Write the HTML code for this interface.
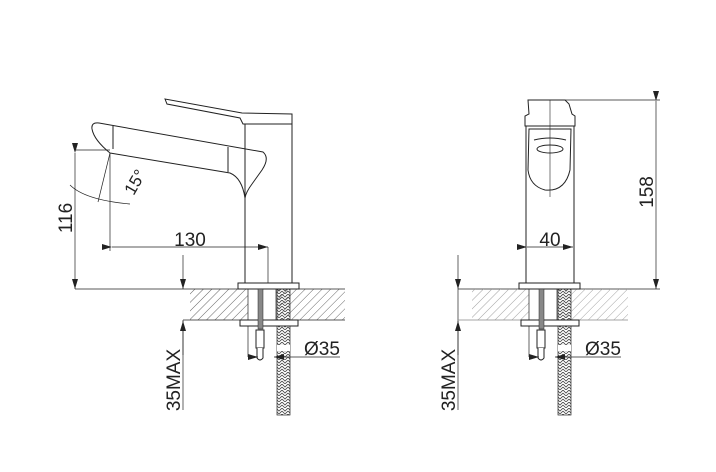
<!DOCTYPE html>
<html><head><meta charset="utf-8"><style>
html,body{margin:0;padding:0;background:#fff;}
svg{display:block;}
text{font-family:"Liberation Sans",sans-serif;fill:#222;}
</style></head><body>
<svg width="716" height="472" viewBox="0 0 716 472" xmlns="http://www.w3.org/2000/svg">
<defs>
<pattern id="h" width="6" height="6" patternUnits="userSpaceOnUse" patternTransform="rotate(45)">
<line x1="0" y1="0" x2="0" y2="6" stroke="#555" stroke-width="0.9"/></pattern>
<pattern id="h2" width="6" height="6" patternUnits="userSpaceOnUse" patternTransform="rotate(45)">
<line x1="0" y1="0" x2="0" y2="6" stroke="#999" stroke-width="0.9"/></pattern>
<pattern id="braid" width="6" height="6" patternUnits="userSpaceOnUse">
<path d="M0 0 L3 3 L6 0 M0 3 L3 6 L6 3" stroke="#444" fill="none" stroke-width="0.8"/></pattern>
<marker id="a" markerWidth="10" markerHeight="6" refX="10" refY="3" orient="auto" markerUnits="userSpaceOnUse">
<path d="M0 0 L10 3 L0 6 Z" fill="#222"/></marker>
</defs>
<g stroke="#222" fill="none" stroke-width="1">
<!-- LEFT faucet -->
<path d="M165 99 L167 104 L240 118 L243 124 L292 124 L292 114 L242 113 Z" fill="#fff"/>
<rect x="245" y="124" width="47" height="165"/>
<path d="M92 129 Q91 122 99 123 L263 152 Q270 158 262 170 L252 184 Q246 192 245 198"/>
<path d="M92 129 Q94 140 110 153 L230 173 Q242 178 245 198"/>
<path d="M113 126 L113 149 M228 147 L228 172"/>
<!-- dims -->
<line x1="75" y1="150" x2="110" y2="150" stroke-width="0.7"/>
<line x1="75" y1="153" x2="75" y2="289" stroke-width="0.7" marker-start="url(#a)" marker-end="url(#a)"/>
<line x1="110" y1="153" x2="110" y2="251" stroke-width="0.7"/>
<line x1="110" y1="153" x2="98" y2="202" stroke-width="0.7"/>
<path d="M70 185 Q85 200 130 204" stroke-width="0.7"/>
<line x1="112" y1="247" x2="268" y2="247" stroke-width="0.7" marker-start="url(#a)" marker-end="url(#a)"/>
<line x1="268" y1="247" x2="268" y2="289" stroke-width="0.7"/>
<line x1="183" y1="255" x2="183" y2="289" stroke-width="0.7" marker-end="url(#a)"/>
<line x1="183" y1="320" x2="183" y2="410" stroke-width="0.7"/>
<line x1="183" y1="355" x2="183" y2="321" stroke-width="0.7" marker-end="url(#a)"/>
<line x1="75" y1="289" x2="190" y2="289" stroke-width="0.7"/>
<!-- bottom left -->
<rect x="190" y="289" width="155" height="31" fill="url(#h)" stroke="none"/>
<line x1="190" y1="289" x2="345" y2="289" stroke-width="0.7"/>
<line x1="183" y1="320" x2="345" y2="320" stroke-width="0.7"/>
<rect x="248" y="289" width="28" height="31" fill="#fff" stroke-width="0.7"/>
<rect x="277" y="289" width="13" height="126" fill="url(#braid)" stroke-width="0.7"/>
<rect x="277" y="345" width="13" height="6" fill="#fff" stroke="none"/>
<rect x="238" y="283" width="61" height="6" fill="#fff"/>
<rect x="240" y="320" width="58" height="6" fill="#fff"/>
<rect x="258" y="289" width="5" height="40" fill="#888" stroke-width="0.5"/>
<rect x="256" y="330" width="8" height="18" fill="#fff"/>
<path d="M257 348 L257 358 Q260 362 263 358 L263 348" fill="#fff"/>
<line x1="248" y1="326" x2="248" y2="357" stroke-width="0.7"/>
<line x1="248" y1="357" x2="258" y2="357" stroke-width="0.7" marker-end="url(#a)"/>
<line x1="340" y1="357" x2="274" y2="357" stroke-width="0.7" marker-end="url(#a)"/>
<!-- RIGHT faucet -->
<path d="M528 100 L534 100 L565 100 L569 104 L572 114 L575 116 L575 126 L525 126 L525 116 L529 114 Z" fill="#fff"/>
<line x1="526" y1="126" x2="526" y2="289"/>
<line x1="574" y1="126" x2="574" y2="289"/>
<path d="M529 129 L571 129 L570 170 Q565 192 545 190 Q530 186 528 170 Z"/>
<ellipse cx="550" cy="149" rx="13" ry="4"/>
<path d="M534 140 Q550 136 566 140"/>
<line x1="550" y1="100" x2="550" y2="197" stroke-width="0.6"/>
<line x1="565" y1="100" x2="660" y2="100" stroke-width="0.7"/>
<line x1="656" y1="101" x2="656" y2="289" stroke-width="0.7" marker-start="url(#a)" marker-end="url(#a)"/>
<line x1="527" y1="247" x2="573" y2="247" stroke-width="0.7" marker-start="url(#a)" marker-end="url(#a)"/>
<line x1="458" y1="255" x2="458" y2="289" stroke-width="0.7" marker-end="url(#a)"/>
<line x1="458" y1="289" x2="458" y2="410" stroke-width="0.7"/>
<line x1="458" y1="355" x2="458" y2="321" stroke-width="0.7" marker-end="url(#a)"/>
<line x1="458" y1="289" x2="660" y2="289" stroke-width="0.7"/>
<rect x="472" y="289" width="156" height="31" fill="url(#h2)" stroke="none"/>
<line x1="458" y1="320" x2="628" y2="320" stroke-width="0.7" stroke="#888"/>
<g transform="translate(281,0)">
<rect x="248" y="289" width="28" height="31" fill="#fff" stroke-width="0.7"/>
<rect x="277" y="289" width="13" height="126" fill="url(#braid)" stroke-width="0.7"/>
<rect x="277" y="345" width="13" height="6" fill="#fff" stroke="none"/>
<rect x="238" y="283" width="61" height="6" fill="#fff"/>
<rect x="240" y="320" width="58" height="6" fill="#fff"/>
<rect x="258" y="289" width="5" height="40" fill="#888" stroke-width="0.5"/>
<rect x="256" y="330" width="8" height="18" fill="#fff"/>
<path d="M257 348 L257 358 Q260 362 263 358 L263 348" fill="#fff"/>
<line x1="248" y1="326" x2="248" y2="357" stroke-width="0.7"/>
<line x1="248" y1="357" x2="258" y2="357" stroke-width="0.7" marker-end="url(#a)"/>
<line x1="340" y1="357" x2="274" y2="357" stroke-width="0.7" marker-end="url(#a)"/>
</g>
</g>
<g font-size="19">
<text x="190" y="246" text-anchor="middle">130</text>
<text transform="translate(72,218) rotate(-90)" text-anchor="middle">116</text>
<text transform="translate(140,185) rotate(-60)" text-anchor="middle" font-size="17">15°</text>
<text x="322" y="355" text-anchor="middle">Ø35</text>
<text transform="translate(180,380) rotate(-90)" text-anchor="middle">35MAX</text>
<text x="550" y="246" text-anchor="middle">40</text>
<text transform="translate(653,192) rotate(-90)" text-anchor="middle">158</text>
<text x="603" y="355" text-anchor="middle">Ø35</text>
<text transform="translate(455,380) rotate(-90)" text-anchor="middle">35MAX</text>
</g>
</svg>
</body></html>
